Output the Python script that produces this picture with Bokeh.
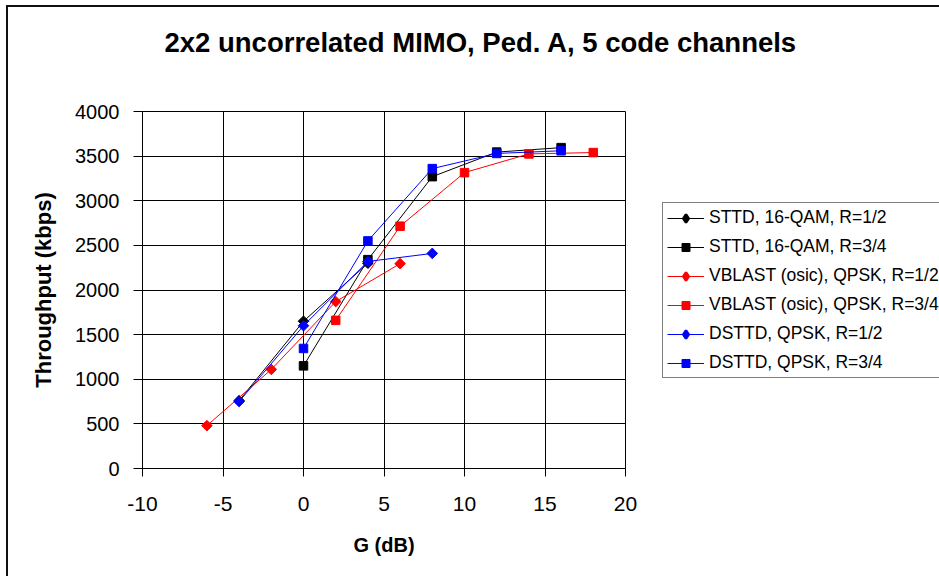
import numpy as np
from bokeh.plotting import figure
from bokeh.models import Legend, LegendItem, Range1d, FixedTicker, Title
from bokeh.embed import file_html
from bokeh.resources import INLINE

# ---- data ----
title_text = "2x2 uncorrelated MIMO, Ped. A, 5 code channels"
x_label = "G (dB)"
y_label = "Throughput (kbps)"
x_ticks = [-10, -5, 0, 5, 10, 15, 20]
x_tick_labels = ["-10", "-5", "0", "5", "10", "15", "20"]
y_ticks = [0, 500, 1000, 1500, 2000, 2500, 3000, 3500, 4000]

names = [
    "STTD, 16-QAM, R=1/2",
    "STTD, 16-QAM, R=3/4",
    "VBLAST (osic), QPSK, R=1/2",
    "VBLAST (osic), QPSK, R=3/4",
    "DSTTD, QPSK, R=1/2",
    "DSTTD, QPSK, R=3/4",
]

x_sttd_12 = [-4, 0, 4]
y_sttd_12 = [760, 1650, 2300]
x_sttd_34 = [0, 4, 8, 12, 16]
y_sttd_34 = [1150, 2340, 3270, 3545, 3595]
x_vblast_12 = [-6, -2, 2, 6]
y_vblast_12 = [480, 1110, 1870, 2295]
x_vblast_34 = [2, 6, 10, 14, 18]
y_vblast_34 = [1660, 2715, 3315, 3525, 3540]
x_dsttd_12 = [-4, 0, 4, 8]
y_dsttd_12 = [750, 1600, 2320, 2410]
x_dsttd_34 = [0, 4, 8, 12, 16]
y_dsttd_34 = [1345, 2550, 3360, 3530, 3560]

xs_all = [x_sttd_12, x_sttd_34, x_vblast_12, x_vblast_34, x_dsttd_12, x_dsttd_34]
ys_all = [y_sttd_12, y_sttd_34, y_vblast_12, y_vblast_34, y_dsttd_12, y_dsttd_34]
colors = ["#000000", "#000000", "#FF0000", "#FF0000", "#0000FF", "#0000FF"]
markers = ["diamond", "square", "diamond", "square", "diamond", "square"]

FONT = "Liberation Sans"

p = figure(
    frame_width=483, frame_height=357,
    min_border_left=134, min_border_right=0,
    min_border_top=104, min_border_bottom=108,
    x_range=Range1d(-10, 20), y_range=Range1d(0, 4000),
    output_backend="svg", toolbar_location=None,
)
p.styles = {
    "border-left": "2px solid #111111",
    "border-top": "2px solid #111111",
    "margin-left": "6px",
    "margin-top": "5px",
}
p.background_fill_color = "white"
p.border_fill_color = "white"
p.outline_line_color = "black"
p.outline_line_width = 1

# spacer between frame and title (pushes the title up)
p.add_layout(Title(text=" ", text_font_size="2px", standoff=50), "above")

# title
p.title.text = title_text
p.title.align = "left"
p.title.offset = 22
p.title.standoff = 0
p.title.text_font = FONT
p.title.text_font_size = "27.5px"
p.title.text_font_style = "bold"
p.title.text_color = "black"

# axes
p.xaxis.ticker = FixedTicker(ticks=x_ticks)
p.xaxis.major_label_overrides = {t: s for t, s in zip(x_ticks, x_tick_labels)}
p.yaxis.ticker = FixedTicker(ticks=y_ticks)
p.xaxis.axis_label = x_label
p.yaxis.axis_label = y_label
for ax in (p.xaxis[0], p.yaxis[0]):
    ax.axis_line_color = "black"
    ax.axis_line_width = 1
    ax.major_tick_line_color = "black"
    ax.major_tick_in = 0
    ax.minor_tick_line_color = None
    ax.major_label_text_font = FONT
    ax.major_label_text_color = "black"
    ax.axis_label_text_font = FONT
    ax.axis_label_text_font_style = "bold"
    ax.axis_label_text_color = "black"
p.xaxis.major_tick_out = 8
p.yaxis.major_tick_out = 9
p.xaxis.major_label_text_font_size = "21px"
p.yaxis.major_label_text_font_size = "20px"
p.xaxis.major_label_standoff = 20
p.yaxis.major_label_standoff = 14
p.xaxis.axis_label_text_font_size = "20px"
p.yaxis.axis_label_text_font_size = "22px"
p.xaxis.axis_label_standoff = 20
p.yaxis.axis_label_standoff = 16

p.xgrid.grid_line_color = "black"
p.ygrid.grid_line_color = "black"
p.xgrid.grid_line_width = 1
p.ygrid.grid_line_width = 1

items = []
for name, xs, ys, c, m in zip(names, xs_all, ys_all, colors, markers):
    rl = p.line(xs, ys, line_color=c, line_width=1)
    if m == "diamond":
        rs = p.scatter(xs, ys, marker="square", size=7.5, angle=np.pi / 4,
                       fill_color=c, line_color=c)
        # hidden copy used only as the legend swatch (legend markers are never rotated)
        rleg = p.scatter(xs, ys, marker="diamond", fill_color=c,
                         line_color=c, line_width=2.6, visible=False)
        items.append(LegendItem(label=name, renderers=[rl, rleg]))
    else:
        rs = p.scatter(xs, ys, marker="square", size=8.5,
                       fill_color=c, line_color=c)
        items.append(LegendItem(label=name, renderers=[rl, rs]))

legend = Legend(
    items=items, location=(37, 90), margin=0, padding=4, spacing=8,
    label_height=20, glyph_height=20, glyph_width=37, label_standoff=5,
    label_text_font=FONT, label_text_font_size="17.5px",
    label_text_color="black",
    border_line_color="black", border_line_width=1,
    background_fill_color="white", background_fill_alpha=1.0,
)
p.add_layout(legend, "right")

open("out.html", "w").write(file_html(p, INLINE))
